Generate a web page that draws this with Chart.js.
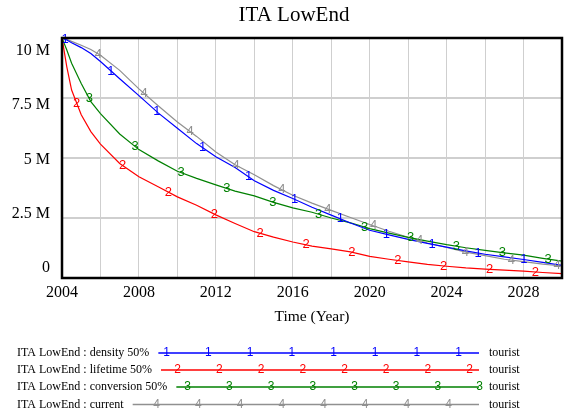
<!DOCTYPE html>
<html>
<head>
<meta charset="utf-8">
<title>ITA LowEnd</title>
<script src="https://cdn.jsdelivr.net/npm/chart.js@4"></script>
<style>
  html, body { margin: 0; padding: 0; background: #fff; }
  canvas { display: block; }
</style>
</head>
<body>
<canvas id="chart" width="578" height="418"></canvas>
<script>
// simulation output, tourists in millions
const years = [2004, 2004.25, 2004.5, 2005, 2005.5, 2006, 2007, 2008, 2009, 2010,
  2011, 2012, 2013, 2014, 2015, 2016, 2017, 2018, 2019, 2020,
  2021, 2022, 2023, 2024, 2025, 2026, 2027, 2028, 2029, 2030];
const densityValues = [10.0, 9.92, 9.8, 9.6, 9.35, 9.02, 8.3, 7.6, 6.88, 6.24,
  5.6, 5.05, 4.6, 4.05, 3.65, 3.31, 2.95, 2.62, 2.29, 1.99,
  1.8, 1.61, 1.44, 1.29, 1.13, 0.99, 0.88, 0.77, 0.65, 0.53];
const lifetimeValues = [10.0, 8.8, 7.83, 6.8, 6.1, 5.58, 4.77, 4.22, 3.8, 3.38,
  3.03, 2.63, 2.27, 1.93, 1.7, 1.5, 1.33, 1.21, 1.09, 0.9,
  0.78, 0.67, 0.57, 0.49, 0.42, 0.37, 0.33, 0.29, 0.23, 0.18];
const conversionValues = [10.0, 9.5, 8.95, 8.1, 7.35, 6.85, 6.0, 5.35, 4.88, 4.45,
  4.15, 3.88, 3.62, 3.42, 3.15, 2.92, 2.74, 2.5, 2.3, 2.06,
  1.87, 1.69, 1.54, 1.39, 1.26, 1.15, 1.05, 0.95, 0.82, 0.7];
const currentValues = [10.0, 9.95, 9.86, 9.7, 9.52, 9.28, 8.65, 7.88, 7.18, 6.5,
  5.9, 5.25, 4.72, 4.3, 3.85, 3.45, 3.12, 2.82, 2.52, 2.23,
  1.95, 1.7, 1.46, 1.27, 1.08, 0.93, 0.78, 0.68, 0.58, 0.5];
const seriesNames = [
  "ITA LowEnd : density 50%",
  "ITA LowEnd : lifetime 50%",
  "ITA LowEnd : conversion 50%",
  "ITA LowEnd : current",
];
const unitLabel = "tourist";
const yTickValues = [0, 2.5, 5, 7.5, 10];

// look of each run: colour, marker digit, where its markers start
const SERIES = [
  { name: seriesNames[0], values: densityValues, color: "#0000ff", digit: "1", markFrom: 2004.16, legendFrom: 166.7 },
  { name: seriesNames[1], values: lifetimeValues, color: "#ff0000", digit: "2", markFrom: 2004.76, legendFrom: 177.7 },
  { name: seriesNames[2], values: conversionValues, color: "#008000", digit: "3", markFrom: 2005.42, legendFrom: 187.7 },
  { name: seriesNames[3], values: currentValues, color: "#909090", digit: "4", markFrom: 2005.89, legendFrom: 156.7 },
];
const MARK_STEP = 2.386;
const LEGEND_ROWS = [353, 370, 387, 404.5];

Chart.defaults.font.family = "'Liberation Serif', 'Times New Roman', serif";
Chart.defaults.color = "#000";

function valueAt(xs, ys, x) {
  for (let i = 1; i < xs.length; i++) {
    if (x <= xs[i]) {
      const t = (x - xs[i - 1]) / (xs[i] - xs[i - 1]);
      return ys[i - 1] + t * (ys[i] - ys[i - 1]);
    }
  }
  return ys[ys.length - 1];
}

const vensimLook = {
  id: "vensimLook",
  afterDatasetsDraw(chart) {
    const { ctx, chartArea: a, scales: { x, y } } = chart;
    ctx.save();
    ctx.font = "13px 'Liberation Sans', Arial, sans-serif";
    ctx.textAlign = "center";
    ctx.textBaseline = "middle";
    SERIES.forEach((s) => {
      ctx.fillStyle = s.color;
      for (let t = s.markFrom; t <= x.max; t += MARK_STEP) {
        const v = valueAt(years, s.values, t);
        ctx.fillText(s.digit, x.getPixelForValue(t), y.getPixelForValue(v));
      }
    });
    // heavy frame round the plot
    ctx.lineWidth = 2.5;
    ctx.strokeStyle = "#000";
    ctx.strokeRect(a.left, a.top, a.right - a.left, a.bottom - a.top);
    ctx.restore();
  },
  afterDraw(chart) {
    const ctx = chart.ctx;
    ctx.save();
    ctx.textBaseline = "middle";
    SERIES.forEach((s, i) => {
      const yy = LEGEND_ROWS[i];
      ctx.font = "12px 'Liberation Serif', serif";
      ctx.textAlign = "left";
      ctx.fillStyle = "#000";
      ctx.fillText(s.name, 17, yy);
      const x0 = 17 + ctx.measureText(s.name).width + 9;
      ctx.fillText(unitLabel, 489, yy);

      ctx.strokeStyle = s.color;
      ctx.lineWidth = 1.5;
      ctx.beginPath();
      ctx.moveTo(x0, yy);
      ctx.lineTo(479, yy);
      ctx.stroke();

      ctx.font = "12px 'Liberation Sans', Arial, sans-serif";
      ctx.textAlign = "center";
      ctx.fillStyle = s.color;
      for (let k = 0; k < 8; k++) {
        ctx.fillText(s.digit, s.legendFrom + k * 41.7, yy);
      }
    });
    ctx.restore();
  },
};

new Chart(document.getElementById("chart"), {
  type: "line",
  data: {
    datasets: SERIES.map((s) => ({
      label: s.name,
      data: years.map((yr, i) => ({ x: yr, y: s.values[i] })),
      yAxisID: "y",
      borderColor: s.color,
      borderWidth: 1.2,
      pointRadius: 0,
      tension: 0,
      fill: false,
    })),
  },
  options: {
    responsive: false,
    animation: false,
    layout: { padding: { left: 10, right: 0, top: 0, bottom: 78 } },
    plugins: {
      legend: { display: false },
      tooltip: { enabled: false },
      title: {
        display: true,
        text: "ITA LowEnd",
        color: "#000",
        font: { size: 21, weight: "normal" },
        padding: { top: 2.5, bottom: 10.3 },
      },
    },
    scales: {
      x: {
        type: "linear",
        min: 2004,
        max: 2030,
        grid: { color: "#cfcfcf", lineWidth: 1, drawTicks: false },
        border: { display: false },
        ticks: {
          stepSize: 2,
          autoSkip: false,
          maxRotation: 0,
          padding: 5,
          font: { size: 16 },
          callback: (v) => ((v - 2004) % 4 === 0 ? String(v) : ""),
        },
        title: {
          display: true,
          text: "Time (Year)",
          font: { size: 15.5 },
          padding: { top: 0, bottom: 14 },
        },
        afterFit: (s) => { s.height = 62; },
      },
      y: {
        position: "right",
        min: 0,
        max: 10,
        grid: { color: "#cfcfcf", lineWidth: 2, drawTicks: false },
        border: { display: false },
        ticks: { display: false, stepSize: 2.5 },
        afterFit: (s) => { s.width = 16; },
      },
      // labels sit a little inside the gridlines, Vensim style
      yl: {
        position: "left",
        min: -0.471,
        max: 10.6,
        grid: { display: false, drawTicks: false },
        border: { display: false },
        ticks: {
          padding: 12,
          font: { size: 16 },
          callback: (v) => (v === 0 ? "0" : v + " M"),
        },
        afterBuildTicks: (s) => { s.ticks = yTickValues.map((v) => ({ value: v })); },
        afterFit: (s) => { s.width = 52; },
      },
    },
  },
  plugins: [vensimLook],
});
</script>
</body>
</html>
